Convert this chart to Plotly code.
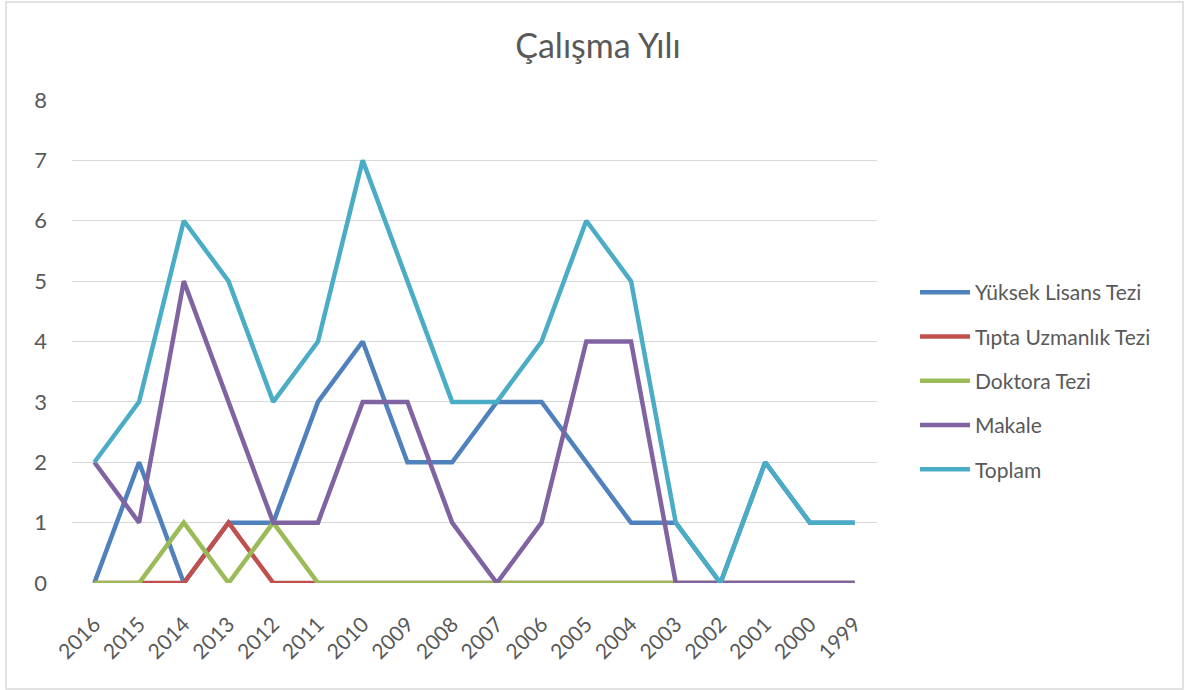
import plotly.graph_objects as go

years = ["2016", "2015", "2014", "2013", "2012", "2011", "2010", "2009", "2008",
         "2007", "2006", "2005", "2004", "2003", "2002", "2001", "2000", "1999"]
yuksek_lisans = [0, 2, 0, 1, 1, 3, 4, 2, 2, 3, 3, 2, 1, 1, 0, 2, 1, 1]
tipta_uzmanlik = [0, 0, 0, 1, 0, 0, 0, 0, 0, 0, 0, 0, 0, 0, 0, 0, 0, 0]
doktora = [0, 0, 1, 0, 1, 0, 0, 0, 0, 0, 0, 0, 0, 0, 0, 0, 0, 0]
makale = [2, 1, 5, 3, 1, 1, 3, 3, 1, 0, 1, 4, 4, 0, 0, 0, 0, 0]
toplam = [2, 3, 6, 5, 3, 4, 7, 5, 3, 3, 4, 6, 5, 1, 0, 2, 1, 1]

series = [
    ("Yüksek Lisans Tezi", yuksek_lisans, "#4F81BD"),
    ("Tıpta Uzmanlık Tezi", tipta_uzmanlik, "#C0504D"),
    ("Doktora Tezi", doktora, "#9BBB59"),
    ("Makale", makale, "#8064A2"),
    ("Toplam", toplam, "#4BACC6"),
]

fig = go.Figure()
for i, (name, vals, color) in enumerate(series):
    fig.add_trace(go.Scatter(
        x=years, y=vals, name=name, mode="lines",
        line=dict(color=color, width=4.5),
        legendgroup=f"g{i}",
    ))

W, H = 1187, 690
L, R, T, B = 72, 310, 100, 107
pw = W - L - R
ph = H - T - B

def px_x(p):
    return (p - L) / pw

def px_y(p):
    return (H - B - p) / ph

fig.update_layout(
    width=W, height=H,
    margin=dict(l=L, r=R, t=T, b=B),
    paper_bgcolor="white", plot_bgcolor="white",
    font=dict(family="Lato, Carlito, Calibri, sans-serif", color="#595959", size=20),
    title=dict(text="Çalışma Yılı", x=598 / W, xanchor="center",
               y=1 - 46 / H, yanchor="middle",
               font=dict(size=34, color="#595959")),
    xaxis=dict(type="category", range=[-0.5, 17.5], showgrid=False,
               showline=False, ticks="", tickangle=-45,
               ticklabelstandoff=24,
               tickfont=dict(size=21, color="#595959")),
    yaxis=dict(range=[0, 8], dtick=1, showgrid=True, gridcolor="#d9d9d9",
               gridwidth=1, zeroline=False, showline=False, ticks="",
               ticklabelstandoff=24,
               tickfont=dict(size=22, color="#595959")),
    legend=dict(x=px_x(915), xanchor="left", y=px_y(272), yanchor="top",
                font=dict(size=21, color="#595959"),
                itemwidth=50,
                tracegroupgap=14, bgcolor="rgba(0,0,0,0)"),
    shapes=[dict(type="rect", xref="paper", yref="paper",
                 x0=px_x(6), x1=px_x(1183), y0=px_y(689), y1=px_y(2),
                 line=dict(color="#d9d9d9", width=1.5), layer="below")],
)

fig.write_html("out.html", config={"displayModeBar": False},
               post_script="document.body.style.margin='0';document.body.style.overflow='hidden';")
